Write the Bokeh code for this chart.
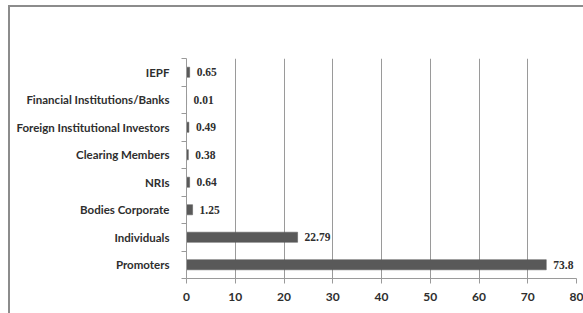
from bokeh.plotting import figure
from bokeh.models import Range1d, FixedTicker, ColumnDataSource
from bokeh.embed import file_html
from bokeh.resources import INLINE

categories = ["Promoters", "Individuals", "Bodies Corporate", "NRIs",
              "Clearing Members", "Foreign Institutional Investors",
              "Financial Institutions/Banks", "IEPF"]
values = [73.8, 22.79, 1.25, 0.64, 0.38, 0.49, 0.01, 0.65]
value_labels = ["73.8", "22.79", "1.25", "0.64", "0.38", "0.49", "0.01", "0.65"]
x_ticks = [0, 10, 20, 30, 40, 50, 60, 70, 80]

n = len(categories)
pos = [i + 0.5 for i in range(n)]
src = ColumnDataSource(dict(y=pos, v=values, lab=value_labels))

FONT = "Lato"
TXT = "#2e2e2e"
GRID = "#9a9a9a"

p = figure(width=575, height=308, output_backend="svg", toolbar_location=None,
           x_range=Range1d(0, 80), y_range=Range1d(0, n),
           min_border_left=176, min_border_right=9, min_border_top=51, min_border_bottom=37)
p.styles = {"border-top": "2px solid #8c8c8c", "border-left": "2px solid #8c8c8c",
            "box-sizing": "border-box", "margin-left": "8px", "margin-top": "5px"}
p.outline_line_color = None
p.ygrid.grid_line_color = None
p.xgrid.grid_line_color = GRID
p.xgrid.ticker = FixedTicker(ticks=x_ticks)

p.hbar(y="y", right="v", left=0, height=0.37, source=src,
       fill_color="#595959", line_color="#595959", line_width=0.5)
p.text(x="v", y="y", text="lab", source=src, x_offset=7,
       text_baseline="middle", text_align="left", text_font=FONT,
       text_font_style="bold", text_font_size="11.5px", text_color=TXT)

xa = p.xaxis[0]
xa.ticker = FixedTicker(ticks=x_ticks)
xa.axis_line_color = GRID
xa.major_tick_line_color = GRID
xa.major_tick_out = 5
xa.major_tick_in = 0
xa.minor_tick_line_color = None
xa.major_label_text_font = FONT
xa.major_label_text_font_style = "bold"
xa.major_label_text_font_size = "12px"
xa.major_label_text_color = TXT
xa.major_label_standoff = 9

ya = p.yaxis[0]
ya.ticker = FixedTicker(ticks=pos, minor_ticks=list(range(n + 1)))
ya.major_label_overrides = {v: c for v, c in zip(pos, categories)}
ya.axis_line_color = GRID
ya.major_tick_line_color = None
ya.major_tick_out = 0
ya.major_tick_in = 0
ya.minor_tick_line_color = GRID
ya.minor_tick_out = 5
ya.minor_tick_in = 0
ya.major_label_text_font = FONT
ya.major_label_text_font_style = "bold"
ya.major_label_text_font_size = "11.5px"
ya.major_label_text_color = TXT
ya.major_label_standoff = 12

open("out.html", "w").write(file_html(p, INLINE))
